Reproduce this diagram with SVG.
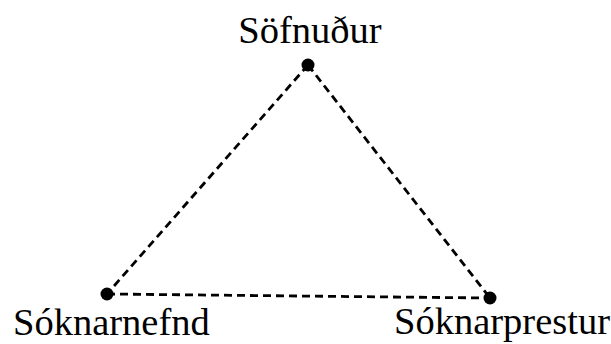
<svg xmlns="http://www.w3.org/2000/svg" width="611" height="344" viewBox="0 0 611 344">
<style>
.t{font-family:"Liberation Serif","Times New Roman",serif;font-size:38.5px;fill:#000}
.e{stroke:#000;stroke-width:2.8;stroke-dasharray:8,5;fill:none}
.n{fill:#000}
</style>
<rect width="611" height="344" fill="#fff"/>
<g id="connectors">
<line class="e" x1="308" y1="65" x2="107" y2="294"/>
<line class="e" x1="308" y1="65" x2="490" y2="298"/>
<line class="e" x1="107" y1="294" x2="490" y2="298"/>
</g>
<g id="sofnudur"><circle class="n" cx="308" cy="65" r="6.5"/><text class="t" x="310" y="43" text-anchor="middle">Söfnuður</text></g>
<g id="soknarnefnd"><circle class="n" cx="107" cy="294" r="6.5"/><text class="t" x="13" y="335">Sóknarnefnd</text></g>
<g id="soknarprestur"><circle class="n" cx="490" cy="298" r="6.5"/><text class="t" x="394" y="334">Sóknarprestur</text></g>
</svg>
